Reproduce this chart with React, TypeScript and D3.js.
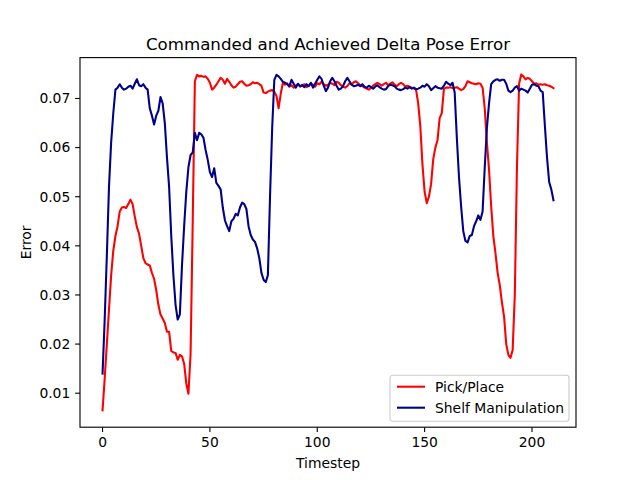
import React from 'react';
import * as d3 from 'd3';

// Values, one per timestep (0..210)
const pickPlace: number[] = [
  0.0065, 0.013, 0.020, 0.027, 0.034, 0.039, 0.042, 0.044, 0.047, 0.0478,
  0.0479, 0.0477, 0.0485, 0.0494, 0.0485, 0.046, 0.0438, 0.0425, 0.040, 0.0375,
  0.0365, 0.0362, 0.0360, 0.0345, 0.0333, 0.031, 0.028, 0.026, 0.0252, 0.0243,
  0.0225, 0.0225, 0.0186, 0.0183, 0.0182, 0.0168, 0.0178, 0.0175, 0.0160, 0.0120,
  0.0099, 0.0180, 0.045, 0.0735, 0.0748, 0.0745, 0.0746, 0.0744, 0.0745, 0.0740,
  0.0732, 0.0718, 0.0722, 0.0728, 0.0735, 0.0742, 0.0738, 0.0730, 0.0740, 0.0734,
  0.0727, 0.0722, 0.0724, 0.0729, 0.0734, 0.0735, 0.0730, 0.0726, 0.0727, 0.0729,
  0.0733, 0.0731, 0.0732, 0.0729, 0.0726, 0.0712, 0.0711, 0.0714, 0.0716, 0.0717,
  0.0714, 0.0705, 0.0680, 0.0710, 0.0732, 0.0728, 0.0731, 0.0724, 0.0727, 0.0722,
  0.0726, 0.0729, 0.0724, 0.0727, 0.0729, 0.0723, 0.0726, 0.0730, 0.0728, 0.0724,
  0.0731, 0.0729, 0.0734, 0.0729, 0.0726, 0.0728, 0.0732, 0.0730, 0.0727, 0.0734,
  0.0732, 0.0727, 0.0724, 0.0722, 0.0725, 0.0731, 0.0729, 0.0733, 0.0735, 0.0731,
  0.0727, 0.0725, 0.0722, 0.0720, 0.0718, 0.0722, 0.0726, 0.0729, 0.0732, 0.0729,
  0.0726, 0.0729, 0.0732, 0.0727, 0.0730, 0.0733, 0.0728, 0.0725, 0.0729, 0.0732,
  0.0729, 0.0724, 0.0726, 0.0724, 0.0722, 0.0720, 0.0718, 0.0690, 0.0643, 0.0565,
  0.0510, 0.0487, 0.0500, 0.0525, 0.0576, 0.0600, 0.0615, 0.0660, 0.0670, 0.0720,
  0.0722, 0.0722, 0.0723, 0.0721, 0.0722, 0.0723, 0.0720, 0.0717, 0.0719, 0.0725,
  0.0735, 0.0733, 0.0731, 0.0730, 0.0729, 0.0731, 0.0730, 0.0722, 0.0680, 0.0610,
  0.0555, 0.0480, 0.0420, 0.0385, 0.0345, 0.0320, 0.0285, 0.0256, 0.0200, 0.0178,
  0.0172, 0.0188, 0.0300, 0.0560, 0.0730, 0.0749, 0.0745, 0.0739, 0.0742, 0.0740,
  0.0735, 0.0730, 0.0731, 0.0728, 0.0729, 0.0728, 0.0729, 0.0727, 0.0726, 0.0724,
  0.0721,
];

const shelfManipulation: number[] = [
  0.0140, 0.025, 0.038, 0.052, 0.061, 0.067, 0.0718, 0.0722, 0.0729, 0.0722,
  0.0718, 0.0720, 0.0724, 0.0726, 0.0720, 0.0730, 0.0739, 0.0727, 0.0725, 0.0729,
  0.0722, 0.0718, 0.0680, 0.0665, 0.0647, 0.0665, 0.0675, 0.0703, 0.0690, 0.0650,
  0.0580, 0.0520, 0.0420, 0.0340, 0.0280, 0.0250, 0.0260, 0.0360, 0.0440, 0.0510,
  0.0560, 0.0585, 0.0590, 0.0630, 0.0615, 0.0630, 0.0627, 0.0620, 0.0595, 0.0575,
  0.0550, 0.0540, 0.0558, 0.0528, 0.0522, 0.0515, 0.0478, 0.0452, 0.0440, 0.0430,
  0.0450, 0.0455, 0.0465, 0.0462, 0.0478, 0.0488, 0.0485, 0.0475, 0.0440, 0.0422,
  0.0413, 0.0408, 0.0395, 0.0375, 0.0345, 0.0331, 0.0326, 0.0340, 0.0500, 0.0640,
  0.0738, 0.0748, 0.0745, 0.0740, 0.0734, 0.0732, 0.0729, 0.0725, 0.0738, 0.0730,
  0.0722, 0.0730, 0.0725, 0.0727, 0.0723, 0.0729, 0.0725, 0.0732, 0.0722, 0.0730,
  0.0738, 0.0745, 0.0740, 0.0726, 0.0715, 0.0722, 0.0735, 0.0742, 0.0735, 0.0726,
  0.0718, 0.0720, 0.0725, 0.0735, 0.0742, 0.0735, 0.0728, 0.0725, 0.0726, 0.0728,
  0.0725, 0.0729, 0.0724, 0.0722, 0.0726, 0.0723, 0.0720, 0.0724, 0.0727, 0.0723,
  0.0720, 0.0718, 0.0719, 0.0725, 0.0728, 0.0727, 0.0725, 0.0720, 0.0718, 0.0717,
  0.0719, 0.0722, 0.0720, 0.0723, 0.0720, 0.0722, 0.0719, 0.0720, 0.0722, 0.0726,
  0.0724, 0.0729, 0.0725, 0.0717, 0.0721, 0.0725, 0.0722, 0.0721, 0.0720, 0.0726,
  0.0734, 0.0730, 0.0727, 0.0732, 0.0712, 0.0620, 0.0540, 0.0480, 0.0430, 0.0410,
  0.0407, 0.0420, 0.0422, 0.0440, 0.0450, 0.0462, 0.0453, 0.0470, 0.0560, 0.0640,
  0.0690, 0.0729, 0.0735, 0.0738, 0.0739, 0.0736, 0.0738, 0.0738, 0.0730, 0.0716,
  0.0713, 0.0716, 0.0722, 0.0725, 0.0716, 0.0720, 0.0718, 0.0716, 0.0712, 0.0720,
  0.0728, 0.0729, 0.0726, 0.0725, 0.0716, 0.0713, 0.0645, 0.0580, 0.0530, 0.0515,
  0.0493,
];

const xTicks = [0, 50, 100, 150, 200];
const yTicks = [0.01, 0.02, 0.03, 0.04, 0.05, 0.06, 0.07];

const series = [
  { name: 'Pick/Place', values: pickPlace, color: '#ff0000' },
  { name: 'Shelf Manipulation', values: shelfManipulation, color: '#00008b' },
];

const W = 640;
const H = 480;
const margin = { top: 57.6, right: 64, bottom: 52.8, left: 80 };
const font = '"DejaVu Sans", sans-serif';
const pt = 100 / 72; // matplotlib at 100 dpi
const fs = 10 * pt;

export default function App() {
  const n = pickPlace.length - 1;
  const allVals = [...pickPlace, ...shelfManipulation];
  const yMin = d3.min(allVals)!;
  const yMax = d3.max(allVals)!;
  const yPad = (yMax - yMin) * 0.05;

  const x = d3.scaleLinear()
    .domain([-n * 0.05, n * 1.05])
    .range([margin.left, W - margin.right]);
  const y = d3.scaleLinear()
    .domain([yMin - yPad, yMax + yPad])
    .range([H - margin.bottom, margin.top]);

  const line = d3.line<number>()
    .x((_, i) => x(i))
    .y(d => y(d));

  const left = margin.left;
  const right = W - margin.right;
  const top = margin.top;
  const bottom = H - margin.bottom;

  // legend box (lower right)
  const lgW = 179;
  const lgH = 46;
  const lgX = right - 7 - lgW;
  const lgY = bottom - 6 - lgH;

  return (
    <svg width={W} height={H} style={{ position: 'absolute', left: 0, top: 0, background: '#fff' }} fontFamily={font}>
      <rect x={0} y={0} width={W} height={H} fill="#fff" />

      {series.map(s => (
        <path key={s.name} d={line(s.values) ?? ''} fill="none" stroke={s.color}
          strokeWidth={1.5 * pt} strokeLinejoin="round" strokeLinecap="square" />
      ))}

      {/* spines */}
      <rect x={left} y={top} width={right - left} height={bottom - top}
        fill="none" stroke="#000" strokeWidth={0.8 * pt} />

      {/* x axis */}
      {xTicks.map(t => (
        <g key={t} transform={`translate(${x(t)},${bottom})`}>
          <line y2={3.5 * pt} stroke="#000" strokeWidth={0.8 * pt} />
          <text y={20} textAnchor="middle" fontSize={fs}>{t}</text>
        </g>
      ))}
      <text x={(left + right) / 2} y={467.5} textAnchor="middle" fontSize={fs}>Timestep</text>

      {/* y axis */}
      {yTicks.map(t => (
        <g key={t} transform={`translate(${left},${y(t)})`}>
          <line x2={-3.5 * pt} stroke="#000" strokeWidth={0.8 * pt} />
          <text x={-7 * pt} dy="0.35em" textAnchor="end" fontSize={fs}>{t.toFixed(2)}</text>
        </g>
      ))}
      <text transform={`translate(31,${(top + bottom) / 2}) rotate(-90)`} textAnchor="middle" fontSize={fs}>Error</text>

      {/* title */}
      <text x={(left + right) / 2} y={50} textAnchor="middle" fontSize={12 * pt}>
        Commanded and Achieved Delta Pose Error
      </text>

      {/* legend */}
      <g transform={`translate(${lgX},${lgY})`}>
        <rect width={lgW} height={lgH} rx={2.8} fill="#fff" fillOpacity={0.8} stroke="#cccccc" strokeWidth={0.8 * pt} />
        {series.map((s, i) => (
          <g key={s.name} transform={`translate(0,${11.5 + i * 21})`}>
            <line x1={7} x2={35} stroke={s.color} strokeWidth={1.5 * pt} />
            <text x={45} dy="0.35em" fontSize={fs}>{s.name}</text>
          </g>
        ))}
      </g>
    </svg>
  );
}
